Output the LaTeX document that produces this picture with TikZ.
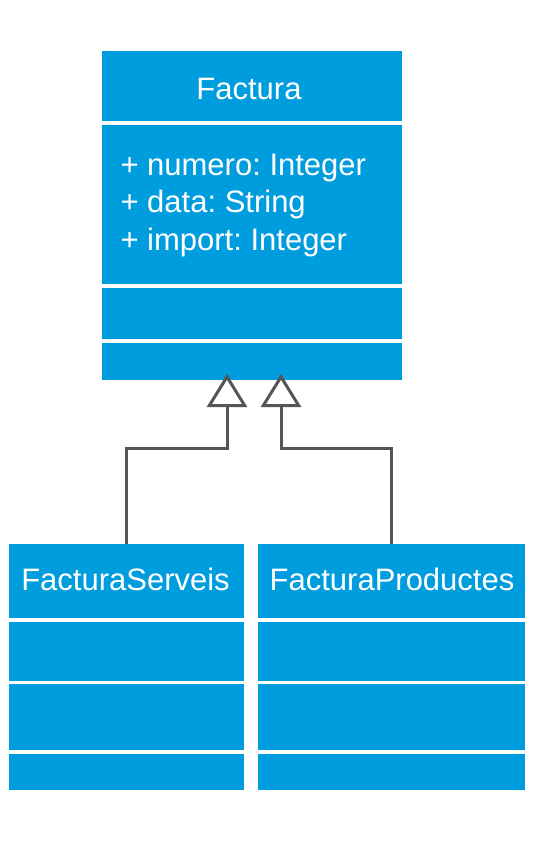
\documentclass[tikz,border=0pt]{standalone}
\usepackage{fontspec}
\setmainfont{Liberation Sans}
\usetikzlibrary{arrows.meta}
\definecolor{umlblue}{RGB}{0,157,222}
\definecolor{linegray}{RGB}{85,85,85}
\begin{document}
\begin{tikzpicture}[x=1pt,y=-1pt,
  comp/.style={fill=umlblue, draw=none, inner sep=0pt, outer sep=0pt, anchor=north west},
  txt/.style={text=white, inner sep=0pt, outer sep=0pt, font=\fontsize{31}{36}\selectfont\frenchspacing},
  inh/.style={draw=linegray, line width=3pt, line join=miter,
    -{Triangle[open, length=33pt, width=40pt]}}]
\useasboundingbox (0,0) rectangle (533,846);
% Factura
\node[comp, minimum width=300pt, minimum height=70pt]  (fh) at (102,51) {};
\node[comp, minimum width=300pt, minimum height=159pt] (fa) at (102,125) {};
\node[comp, minimum width=300pt, minimum height=51pt]  (fo) at (102,288) {};
\node[comp, minimum width=300pt, minimum height=37pt]  (fb) at (102,343) {};
\node[txt, anchor=base] (fht) at (249,99) {Factura};
\node[txt, anchor=base west] (a1) at (120.5,175) {+ numero: Integer};
\node[txt, anchor=base west] (a2) at (120.5,212.5) {+ data: String};
\node[txt, anchor=base west] (a3) at (120.5,250) {+ import: Integer};
% FacturaServeis
\node[comp, minimum width=235pt, minimum height=74pt] (sh) at (9,544) {};
\node[comp, minimum width=235pt, minimum height=59pt] (sa) at (9,621.5) {};
\node[comp, minimum width=235pt, minimum height=66pt] (so) at (9,684) {};
\node[comp, minimum width=235pt, minimum height=36pt] (sb) at (9,754) {};
\node[txt, anchor=base] (sht) at (125.5,590) {FacturaServeis};
% FacturaProductes
\node[comp, minimum width=267.5pt, minimum height=74pt] (ph) at (257.5,544) {};
\node[comp, minimum width=267.5pt, minimum height=59pt] (pa) at (257.5,621.5) {};
\node[comp, minimum width=267.5pt, minimum height=66pt] (po) at (257.5,684) {};
\node[comp, minimum width=267.5pt, minimum height=36pt] (pb) at (257.5,754) {};
\node[txt, anchor=base] (pht) at (392,590) {FacturaProductes};
% generalizations
\coordinate (j1) at (227,448);
\coordinate (j2) at (281,448);
\coordinate (t1) at (227,374);
\coordinate (t2) at (281,374);
\draw[inh] (sh.north) |- (j1) -- (t1);
\draw[inh] (ph.north) |- (j2) -- (t2);
\end{tikzpicture}
\end{document}
